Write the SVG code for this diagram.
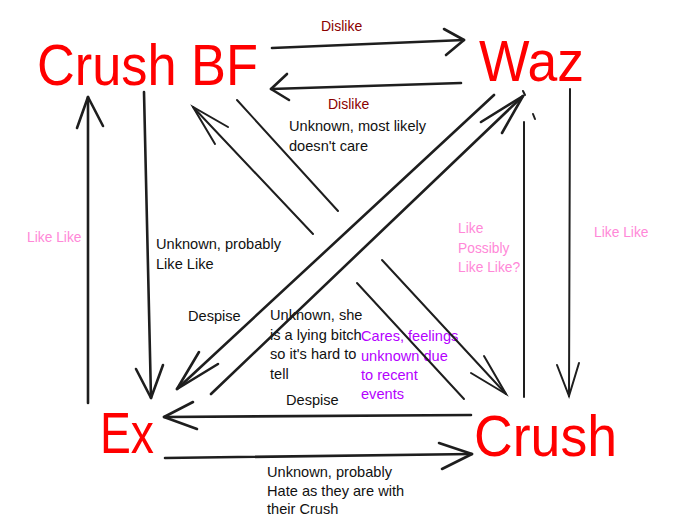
<svg xmlns="http://www.w3.org/2000/svg" width="694" height="532" viewBox="0 0 694 532">
<style>
.bg{fill:#ffffff}
.node{font-family:"Liberation Sans",Arial,sans-serif;font-size:57px;fill:#ff0000}
.ln{fill:none;stroke:#1e1e1e;stroke-width:2.6;stroke-linecap:round;stroke-linejoin:round}
.thin{fill:none;stroke:#1e1e1e;stroke-width:2;stroke-linecap:round}
.lbl{font-family:"Liberation Sans",Arial,sans-serif;font-size:14.6px;fill:#111111}
.dis{fill:#8b0000;font-size:14px}
.pink{fill:#ff88d8;font-size:13.8px}
.purp{fill:#b400ff}
</style>
<rect class="bg" x="0" y="0" width="694" height="532"/>

<g id="labels">
<text class="lbl dis" x="321" y="31">Dislike</text>
<text class="lbl dis" x="328" y="109">Dislike</text>
<text class="lbl" x="289" y="131">Unknown, most likely</text>
<text class="lbl" x="289" y="151">doesn't care</text>
<text class="lbl pink" x="27" y="242">Like Like</text>
<text class="lbl" x="156" y="249">Unknown, probably</text>
<text class="lbl" x="156" y="269">Like Like</text>
<text class="lbl pink" x="458" y="233">Like</text>
<text class="lbl pink" x="458" y="253">Possibly</text>
<text class="lbl pink" x="458" y="272">Like Like?</text>
<text class="lbl pink" x="594" y="237">Like Like</text>
<text class="lbl" x="188" y="321">Despise</text>
<text class="lbl" x="270" y="320">Unknown, she</text>
<text class="lbl" x="270" y="340">is a lying bitch</text>
<text class="lbl" x="270" y="359">so it's hard to</text>
<text class="lbl" x="270" y="379">tell</text>
<text class="lbl purp" x="361" y="341">Cares, feelings</text>
<text class="lbl purp" x="361" y="361">unknown due</text>
<text class="lbl purp" x="361" y="380">to recent</text>
<text class="lbl purp" x="361" y="399">events</text>
<text class="lbl" x="286" y="405">Despise</text>
<text class="lbl" x="267" y="477">Unknown, probably</text>
<text class="lbl" x="267" y="496">Hate as they are with</text>
<text class="lbl" x="267" y="514">their Crush</text>
</g>

<g id="connectors">
<g id="e-crushbf-waz"><line class="ln" x1="272" y1="48" x2="464" y2="40"/><polyline class="ln" points="444,29 464,40 446,55"/></g>
<g id="e-waz-crushbf"><line class="ln" x1="461" y1="83" x2="271" y2="89"/><polyline class="ln" points="287,74 271,89 289,100"/></g>
<g id="e-ex-crushbf"><line class="ln" x1="88" y1="403" x2="88" y2="97"/><polyline class="ln" points="77,128 88,97 103,126"/></g>
<g id="e-crushbf-ex"><line class="ln" x1="144" y1="92" x2="151" y2="398"/><polyline class="ln" points="136,369 151,398 163,365"/></g>
<g id="e-crushbf-crush"><line class="thin" x1="237" y1="100" x2="338" y2="211"/><line class="thin" x1="382" y1="260" x2="506" y2="394"/><polyline class="thin" points="484,356 506,394 471,373"/></g>
<g id="e-crush-crushbf"><line class="thin" x1="464" y1="399" x2="357" y2="283"/><line class="thin" x1="313" y1="234" x2="193" y2="107"/><polyline class="thin" points="228,127 193,107 215,144"/></g>
<g id="e-waz-ex"><line class="ln" x1="494" y1="95" x2="177" y2="389"/><polyline class="ln" points="199,352 177,389 218,364"/></g>
<g id="e-ex-waz"><line class="ln" x1="211" y1="394" x2="523" y2="96"/><polyline class="ln" points="481,122 523,96 502,133"/></g>
<g id="e-waz-crush"><line class="thin" x1="570" y1="89" x2="569" y2="396"/><polyline class="thin" points="557,365 569,396 579,363"/></g>
<g id="e-crush-waz"><line class="thin" x1="524" y1="397" x2="524" y2="122"/><line class="thin" x1="523" y1="91" x2="525" y2="95"/><line class="thin" x1="533" y1="114" x2="535" y2="119"/></g>
<g id="e-crush-ex"><line class="ln" x1="471" y1="415" x2="164" y2="417"/><polyline class="ln" points="193,402 164,417 197,429"/></g>
<g id="e-ex-crush"><line class="ln" x1="165" y1="458" x2="472" y2="454"/><polyline class="ln" points="439,443 472,454 442,469"/></g>
</g>

<g id="node-crushbf"><text class="node" x="37" y="85" textLength="221" lengthAdjust="spacingAndGlyphs">Crush BF</text></g>
<g id="node-waz"><text class="node" x="479" y="81" textLength="105" lengthAdjust="spacingAndGlyphs">Waz</text></g>
<g id="node-ex"><text class="node" x="100" y="453" textLength="54" lengthAdjust="spacingAndGlyphs">Ex</text></g>
<g id="node-crush"><text class="node" x="474" y="456" textLength="143" lengthAdjust="spacingAndGlyphs">Crush</text></g>
</svg>
